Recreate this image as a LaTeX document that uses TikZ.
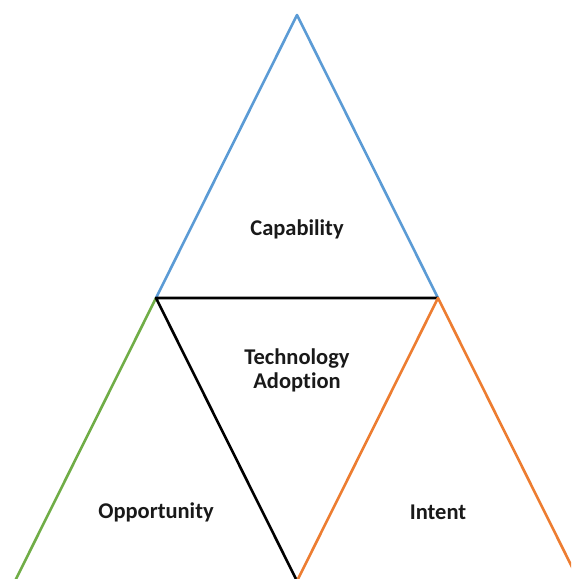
\documentclass[tikz,border=0pt]{standalone}
\usepackage{fontspec}
\setmainfont[Ligatures=NoCommon]{Carlito}
\usetikzlibrary{arrows}

\definecolor{capblue}{RGB}{91,155,213}
\definecolor{oppgreen}{RGB}{112,173,71}
\definecolor{intorange}{RGB}{237,125,49}

\begin{document}
\begin{tikzpicture}[x=1pt,y=-1pt,line width=2.6pt,line join=round,
                label node/.style={font=\bfseries\fontsize{22.5}{24}\selectfont,align=center,text=black!90}]

  \useasboundingbox (0,0) rectangle (571,579);
  \clip (0,0) rectangle (571,579);

  \coordinate (top) at (297,15);
  \coordinate (ml) at (156,298);
  \coordinate (mr) at (438,298);
  \coordinate (bl) at (15,581);
  \coordinate (bm) at (297,581);
  \coordinate (br) at (579,581);

  \node[label node] (cap) at (297,229) {Capability};
  \node[label node] (tech) at (297,370) {Technology\\Adoption};
  \node[label node] (opp) at (156,512) {Opportunity};
  \node[label node] (int) at (438,512) {Intent};

  \draw[capblue] (ml) -- (top) -- (mr);
  \draw[oppgreen] (ml) -- (bl);
  \draw[black] (mr) -- (ml) -- (bm);
  \draw[intorange] (br) -- (mr) -- (bm);
\end{tikzpicture}
\end{document}
